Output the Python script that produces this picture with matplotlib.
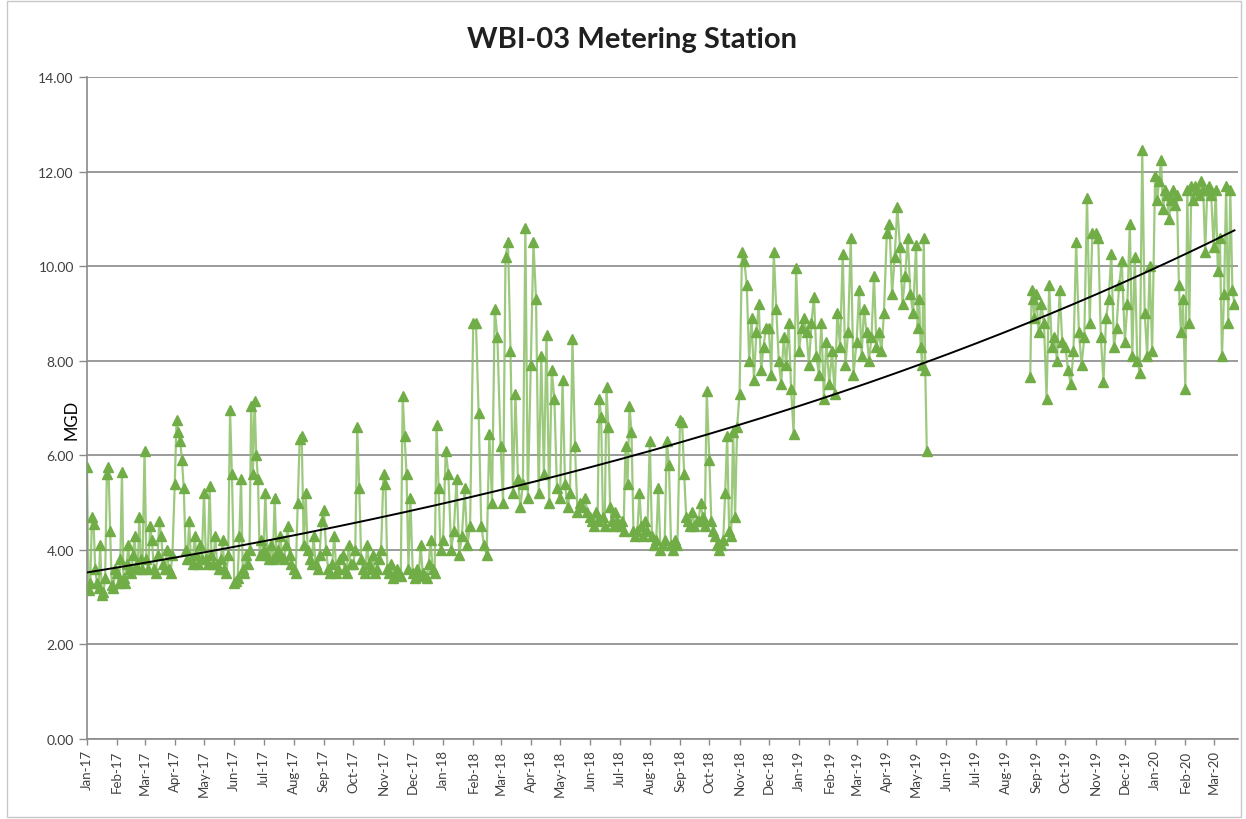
import calendar
import matplotlib
matplotlib.use("Agg")
import matplotlib.pyplot as plt
import matplotlib.dates as mdates
import numpy as np
import pandas as pd

# daily flow readings (MGD)
months = ["2017-01", "2017-02", "2017-03", "2017-04", "2017-05", "2017-06",
          "2017-07", "2017-08", "2017-09", "2017-10", "2017-11", "2017-12",
          "2018-01", "2018-02", "2018-03", "2018-04", "2018-05", "2018-06",
          "2018-07", "2018-08", "2018-09", "2018-10", "2018-11", "2018-12",
          "2019-01", "2019-02", "2019-03", "2019-04", "2019-05",
          "2019-08", "2019-09", "2019-10", "2019-11", "2019-12",
          "2020-01", "2020-02", "2020-03"]

mgd = [
    [5.75, 3.15, 3.3, 4.7, 4.55, 3.6, 3.3, 3.2, 4.1, 3.05, 3.1, 3.4, 5.6, 5.75, 4.4, 3.25, 3.2, 3.6],
    [3.5, 3.3, 3.8, 5.65, 3.4, 3.3, 3.7, 4.1, 3.6, 3.5, 3.9, 4.3, 3.65, 3.6, 4.7, 3.8, 3.6],
    [6.1, 3.8, 3.6, 4.5, 4.2, 3.6, 3.5, 3.9, 4.6, 4.3, 3.7, 3.6, 4.0, 3.6, 3.5, 3.9],
    [5.4, 6.75, 6.5, 6.3, 5.9, 5.3, 4.0, 3.8, 4.6, 3.8, 3.7, 4.3, 3.9, 3.7, 4.1, 3.8],
    [5.2, 3.8, 3.7, 5.35, 3.9, 3.7, 4.3, 3.7, 3.6, 3.8, 4.2, 3.6, 3.5, 3.9, 6.95, 5.6],
    [3.3, 3.35, 3.4, 4.3, 5.5, 3.6, 3.5, 3.9, 3.7, 4.0, 7.05, 5.6, 7.15, 6.0, 5.5, 3.9, 4.2],
    [4.0, 5.2, 3.9, 3.8, 4.1, 3.8, 5.1, 3.9, 4.0, 4.3, 3.85, 3.8, 4.1, 4.5, 3.9, 3.7],
    [3.6, 3.5, 5.0, 6.35, 6.4, 4.1, 5.2, 4.0, 3.8, 3.7, 4.3, 3.7, 3.6, 3.9, 4.6],
    [4.85, 4.0, 3.6, 3.5, 3.7, 4.3, 3.5, 3.6, 3.8, 3.9, 3.6, 3.5, 4.1, 3.7],
    [3.7, 4.0, 6.6, 5.3, 3.8, 3.6, 3.5, 4.1, 3.7, 3.6, 3.9, 3.5, 3.6, 3.8, 4.0],
    [5.6, 5.4, 3.6, 3.5, 3.7, 3.4, 3.5, 3.6, 3.5, 3.45, 7.25, 6.4, 5.6, 3.6, 5.1],
    [3.5, 3.4, 3.6, 3.45, 4.1, 3.5, 3.45, 3.4, 3.7, 4.2, 3.6, 3.5, 6.65, 5.3, 4.0],
    [4.2, 6.1, 5.6, 4.0, 4.4, 5.5, 3.9, 4.3, 5.3, 4.1, 4.5],
    [8.8, 8.8, 6.9, 4.5, 4.1, 3.9, 6.45, 5.0, 9.1, 8.5],
    [6.2, 5.0, 10.2, 10.5, 8.2, 5.2, 7.3, 5.5, 4.9, 5.4, 10.8, 5.1],
    [7.9, 10.5, 9.3, 5.2, 8.1, 5.6, 8.55, 5.0, 7.8, 7.2, 5.3],
    [5.1, 7.6, 5.4, 4.9, 5.2, 8.45, 6.2, 4.8, 5.0, 4.9, 5.1, 4.8],
    [4.7, 4.6, 4.5, 4.8, 4.6, 7.2, 6.8, 4.7, 4.5, 7.45, 6.6, 4.9, 4.6, 4.5, 4.8, 4.6],
    [4.5, 4.6, 4.4, 6.2, 5.4, 7.05, 6.5, 4.4, 4.3, 4.4, 5.2, 4.5, 4.3, 4.6, 4.4],
    [6.3, 4.3, 4.1, 4.2, 5.3, 4.0, 4.1, 4.2, 6.3, 5.8, 4.1, 4.0, 4.2, 4.1],
    [6.75, 6.7, 5.6, 4.7, 4.6, 4.5, 4.8, 4.5, 4.6, 4.6, 5.0, 4.7, 4.5, 7.35],
    [5.9, 4.6, 4.4, 4.3, 4.1, 4.0, 4.1, 4.2, 5.2, 6.4, 4.4, 4.3, 6.5, 4.7, 6.6],
    [7.3, 10.3, 10.1, 9.6, 8.0, 8.9, 7.6, 8.6, 9.2, 7.8, 8.3, 8.7],
    [8.7, 7.7, 10.3, 9.1, 8.0, 7.5, 8.5, 7.9, 8.8, 7.4, 6.45, 9.95],
    [8.2, 8.7, 8.9, 8.6, 7.9, 8.8, 9.35, 8.1, 7.7, 8.8, 7.2, 8.4],
    [7.5, 8.2, 7.3, 9.0, 8.3, 10.25, 7.9, 8.6, 10.6, 7.7],
    [8.4, 9.5, 8.1, 9.1, 8.6, 8.0, 8.5, 9.8, 8.3, 8.6, 8.2, 9.0],
    [10.7, 10.9, 9.4, 10.2, 11.25, 10.4, 9.2, 9.8, 10.6, 9.4, 9.0],
    [10.45, 8.7, 9.3, 8.3, 7.9, 10.6, 7.8, 6.1],
    [7.65, 9.5, 9.3, 8.9],
    [9.4, 8.6, 9.2, 8.8, 7.2, 9.6, 8.3, 8.5, 8.0, 9.5, 8.4],
    [8.3, 7.8, 7.5, 8.2, 10.5, 8.6, 7.9, 8.5, 11.45, 8.8, 10.7],
    [10.7, 10.6, 8.5, 7.55, 8.9, 9.3, 10.25, 8.3, 8.7, 9.6, 10.1],
    [8.4, 9.2, 10.9, 8.1, 10.2, 8.0, 7.75, 12.45, 9.0, 8.1, 10.0, 8.2],
    [11.9, 11.4, 11.8, 12.25, 11.2, 11.6, 11.5, 11.0, 11.4, 11.6, 11.3, 11.5, 9.6, 8.6, 9.3],
    [7.4, 11.6, 8.8, 11.7, 11.4, 11.7, 11.6, 11.5, 11.8, 11.6, 10.3, 11.6, 11.7, 11.5],
    [10.4, 11.6, 9.9, 10.6, 8.1, 9.4, 11.7, 8.8, 11.6, 9.5, 9.2],
]

# months that are only partly covered: (first day, last day)
partial = {"2019-05": (1, 13), "2019-08": (26, 31), "2020-03": (1, 24)}

xs, ys = [], []
prev = None
for m, vals in zip(months, mgd):
    start = pd.Timestamp(m + "-01")
    ndays = calendar.monthrange(start.year, start.month)[1]
    d0, d1 = partial.get(m, (1, ndays))
    offs = np.linspace(d0 - 1, d1 - 0.5, len(vals), endpoint=False)
    x = mdates.date2num(start) + offs
    if prev is not None and x[0] - prev > 20:
        xs.append(np.nan)
        ys.append(np.nan)
    xs.extend(x)
    ys.extend(vals)
    prev = x[-1]
xs = np.array(xs)
ys = np.array(ys)

# exponential trendline, as Excel does it
ok = ~np.isnan(ys)
b, a = np.polyfit(xs[ok], np.log(ys[ok]), 1)

x0 = mdates.date2num(pd.Timestamp("2017-01-01"))
x1 = mdates.date2num(pd.Timestamp("2020-03-26"))
tx = np.linspace(x0, np.nanmax(xs), 300)

fig = plt.figure(figsize=(12.46, 8.2), dpi=100)
ax = fig.add_axes([0.0698, 0.0976, 0.9238, 0.8073])

green = "#70AD47"
ax.plot(xs, ys, color="#8CC068", lw=1.6, alpha=0.85, zorder=2)
ax.plot(xs, ys, ls="none", marker="^", ms=7, color=green, zorder=3)
ax.plot(tx, np.exp(a + b * tx), color="black", lw=1.4, zorder=4)

ax.set_xlim(x0, x1)
ax.set_ylim(0, 14)
ax.set_yticks(np.arange(0, 15, 2))
ax.yaxis.set_major_formatter(matplotlib.ticker.FormatStrFormatter("%.2f"))
ax.xaxis.set_major_locator(mdates.MonthLocator())
ax.xaxis.set_major_formatter(mdates.DateFormatter("%b-%y"))
for lab in ax.get_xticklabels():
    lab.set_rotation(90)

ax.grid(axis="y", color="#8a8a8a", lw=1.2)
ax.set_axisbelow(True)
for s in ["top", "right"]:
    ax.spines[s].set_visible(False)
for s in ["left", "bottom"]:
    ax.spines[s].set_color("#8a8a8a")
    ax.spines[s].set_linewidth(1.2)
ax.tick_params(axis="both", colors="#8a8a8a", labelcolor="#404040", labelsize=10,
               length=6, width=1)
ax.tick_params(axis="x", length=4, labelsize=9.5)
for lab in ax.get_xticklabels() + ax.get_yticklabels():
    lab.set_family("Lato")

fig.text(72 / 1246, 1 - 420 / 820, "MGD", rotation=90, ha="center", va="center",
         fontsize=12, family="Lato", color="black")
fig.text(0.507, 0.951, "WBI-03 Metering Station", ha="center", va="center",
         fontsize=21, fontweight="bold", family="Lato", color="#202020")

fig.patches.append(plt.Rectangle((0.006, 0.002), 0.99, 0.996, transform=fig.transFigure,
                                 fill=False, ec="#c8c8c8", lw=1))

fig.savefig("out.png", dpi=100)
